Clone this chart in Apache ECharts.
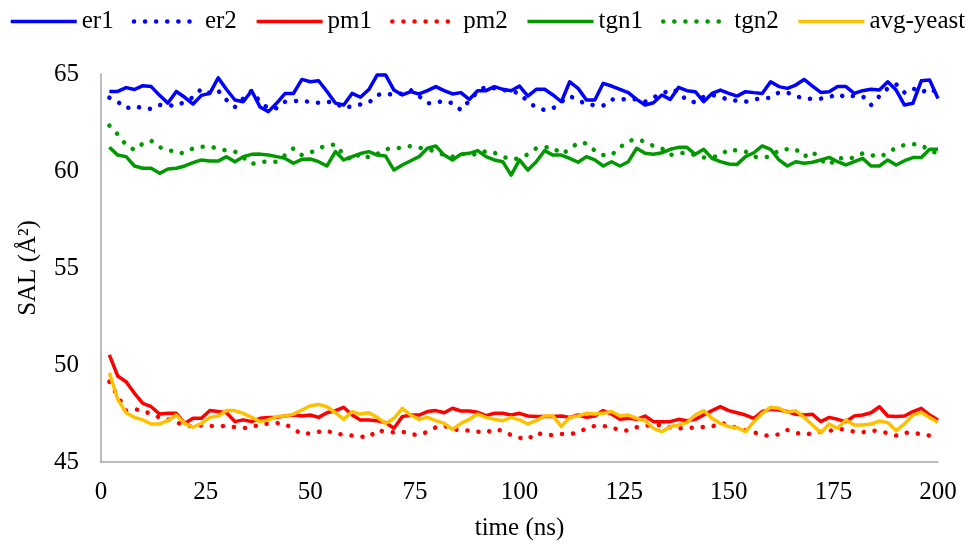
<!DOCTYPE html>
<html>
<head>
<meta charset="utf-8">
<script src="https://cdn.jsdelivr.net/npm/echarts@6/dist/echarts.min.js"></script>
<style>
html,body{margin:0;padding:0;background:#fff;}
#chart{width:974px;height:548px;}
</style>
</head>
<body>
<div id="chart"></div>
<script>
// time (ns)
var time = [2,4,6,8,10,12,14,16,18,20,22,24,26,28,30,32,34,36,38,40,42,44,46,48,50,52,54,56,58,60,62,64,66,68,70,72,74,76,78,80,82,84,86,88,90,92,94,96,98,100,102,104,106,108,110,112,114,116,118,120,122,124,126,128,130,132,134,136,138,140,142,144,146,148,150,152,154,156,158,160,162,164,166,168,170,172,174,176,178,180,182,184,186,188,190,192,194,196,198,200];

var er1 = [64.1,64.1,64.3,64.2,64.4,64.35,63.9,63.5,64.1,63.8,
63.45,63.9,64.0,64.8,64.2,63.66,63.57,64.14,63.3,63.06,
63.5,64.0,64.0,64.72,64.6,64.65,64.1,63.5,63.4,64.0,
63.8,64.2,64.95,64.95,64.17,63.92,64.09,63.97,64.14,64.35,
64.14,63.97,64.04,63.69,64.14,64.14,64.35,64.21,64.14,64.38,
63.86,64.21,64.21,63.92,63.57,64.6,64.26,63.66,63.66,64.52,
64.38,64.21,64.04,63.69,63.4,63.52,63.92,63.69,64.31,64.14,
64.09,63.57,64.0,64.17,64.0,63.86,64.09,64.04,64.0,64.6,
64.35,64.26,64.43,64.72,64.38,64.05,64.09,64.35,64.35,64.0,
64.14,64.21,64.17,64.6,64.17,63.4,63.49,64.65,64.69,63.74];

var er2 = [63.78,63.57,63.23,63.35,63.23,63.2,63.4,63.4,63.35,63.57,
63.8,64.23,64.0,64.14,63.66,63.3,63.74,64.14,63.57,63.23,
63.23,63.57,63.6,63.64,63.54,63.52,63.57,63.52,63.23,63.35,
63.43,63.52,63.92,64.0,63.92,64.0,64.17,63.86,63.49,63.52,
63.62,63.49,63.14,63.62,64.09,64.35,64.26,64.17,64.12,64.0,
63.57,63.28,63.14,63.23,63.57,63.86,63.66,63.43,63.4,63.37,
63.69,63.66,63.74,63.69,63.57,63.8,63.95,64.2,64.09,63.62,
63.54,63.83,63.92,63.83,63.66,63.62,63.57,63.69,63.74,63.78,
64.05,64.04,63.86,63.74,63.71,63.73,63.8,63.97,63.8,63.88,
63.86,63.4,63.86,64.26,64.47,64.04,64.26,64.04,64.26,64.0];

var pm1 = [50.52,49.43,49.14,48.54,48.02,47.85,47.47,47.51,47.51,46.99,
47.25,47.25,47.65,47.6,47.54,47.08,47.17,47.08,47.25,47.3,
47.3,47.37,47.42,47.37,47.42,47.3,47.54,47.65,47.82,47.42,
47.17,47.17,47.13,47.03,46.74,47.34,47.42,47.42,47.6,47.65,
47.54,47.77,47.63,47.63,47.56,47.39,47.51,47.51,47.42,47.51,
47.37,47.34,47.34,47.34,47.37,47.3,47.42,47.3,47.37,47.65,
47.47,47.2,47.25,47.2,47.37,47.08,47.08,47.08,47.2,47.13,
47.2,47.42,47.65,47.85,47.65,47.54,47.42,47.25,47.6,47.71,
47.68,47.6,47.46,47.42,47.46,47.08,47.3,47.2,47.08,47.37,
47.42,47.54,47.85,47.37,47.34,47.37,47.6,47.77,47.42,47.17];

var pm2 = [49.14,48.4,47.65,47.72,47.65,47.47,47.3,47.2,47.03,46.91,
46.82,46.89,46.86,46.84,46.86,46.8,46.75,46.79,46.94,46.98,
47.01,46.96,46.7,46.44,46.48,46.56,46.62,46.44,46.43,46.36,
46.31,46.27,46.65,46.56,46.53,46.56,46.43,46.39,46.56,46.79,
46.87,46.7,46.63,46.62,46.56,46.51,46.7,46.6,46.39,46.25,
46.17,46.51,46.39,46.39,46.44,46.44,46.51,46.74,46.86,46.86,
46.8,46.62,46.62,46.79,46.87,46.91,46.91,46.79,46.74,46.74,
46.79,46.8,46.82,47.03,46.91,46.74,46.62,46.53,46.39,46.34,
46.43,46.65,46.51,46.41,46.48,46.56,46.6,46.7,46.68,46.56,
46.53,46.62,46.6,46.48,46.36,46.51,46.51,46.43,46.36,46.39];

var tgn1 = [61.22,60.82,60.74,60.26,60.14,60.14,59.88,60.1,60.14,60.26,
60.43,60.57,60.51,60.51,60.74,60.48,60.74,60.86,60.87,60.82,
60.74,60.65,60.4,60.6,60.62,60.48,60.26,61.0,60.57,60.74,
60.9,61.0,60.82,60.77,60.05,60.31,60.53,60.74,61.17,61.29,
60.82,60.57,60.86,60.91,61.05,60.74,60.57,60.48,59.79,60.57,
60.05,60.48,61.05,60.82,60.82,60.65,60.45,60.74,60.57,60.26,
60.48,60.26,60.48,61.17,60.91,60.86,60.94,61.12,61.22,61.22,
60.86,61.12,60.65,60.48,60.36,60.34,60.74,60.94,61.29,61.12,
60.57,60.26,60.48,60.4,60.45,60.57,60.7,60.48,60.31,60.48,
60.65,60.26,60.26,60.57,60.31,60.53,60.69,60.7,61.12,61.12];

var tgn2 = [62.34,61.89,61.34,61.08,61.42,61.56,61.22,61.12,60.91,60.94,
61.17,61.25,61.25,61.17,61.05,61.0,60.7,60.36,60.48,60.48,
60.48,60.82,61.17,60.82,60.94,61.17,61.32,61.37,60.82,60.57,
60.91,60.7,60.87,61.13,61.17,61.2,61.29,61.2,61.12,61.0,
60.82,60.74,60.87,60.91,60.82,61.03,60.94,60.74,60.6,60.65,
60.86,61.17,61.22,61.22,60.87,61.12,61.46,61.42,61.05,60.82,
60.82,61.22,61.54,61.65,61.51,61.29,61.17,60.82,60.91,60.94,
60.82,60.7,60.7,60.82,61.12,61.05,61.0,60.74,60.69,60.74,
61.08,61.13,61.13,60.74,61.0,60.57,60.31,60.7,60.6,60.7,
60.91,60.82,60.74,60.91,61.22,61.34,61.39,61.34,61.05,60.91];

var avgYeast = [49.6,48.23,47.54,47.3,47.17,46.96,46.96,47.13,47.42,46.99,
46.79,46.99,47.3,47.37,47.65,47.65,47.51,47.3,47.08,47.17,
47.34,47.37,47.47,47.68,47.9,47.97,47.85,47.54,47.2,47.6,
47.47,47.54,47.3,46.99,47.25,47.77,47.42,47.2,47.3,47.13,
46.99,46.68,46.99,47.2,47.47,47.3,47.2,47.13,47.3,47.17,
46.96,47.13,47.37,47.37,46.82,47.3,47.37,47.51,47.47,47.51,
47.6,47.37,47.42,47.25,47.13,46.74,46.56,46.82,46.91,47.03,
47.42,47.65,47.25,46.99,46.82,46.77,46.56,47.08,47.51,47.82,
47.77,47.56,47.65,47.3,46.91,46.51,46.96,46.74,47.17,46.91,
46.91,46.96,47.11,47.03,46.62,46.96,47.42,47.56,47.3,47.04];

var seriesNames = ['er1','er2','pm1','pm2','tgn1','tgn2','avg-yeast'];
var dottedFlags = [false,true,false,true,false,true,false];
var xTicks = {min: 0, max: 200, step: 25};
var yTicks = {min: 45, max: 65, step: 5};

function pairs(vals){
  var out = [];
  for (var i = 0; i < time.length; i++) out.push([time[i], vals[i]]);
  return out;
}

var FONT = 'Liberation Serif';
var BLUE = '#0000FF', RED = '#FF0000', GREEN = '#009A00', GOLD = '#FFC000';
var DOT = [0.1, 11];
var SOLID_W = 3.5, DOT_W = 4.5;

function lineStyleFor(color, dotted){
  return dotted ? {color: color, width: DOT_W, type: DOT, cap: 'round'}
                : {color: color, width: SOLID_W, type: 'solid', join: 'round'};
}

function mk(name, vals, color, dotted){
  return {
    name: name, type: 'line', data: pairs(vals),
    symbol: 'none', showSymbol: false, smooth: false, animation: false,
    color: color,
    lineStyle: lineStyleFor(color, dotted)
  };
}

var colors = [BLUE, BLUE, RED, RED, GREEN, GREEN, GOLD];
var legendData = seriesNames.map(function(n, i){
  return {name: n, lineStyle: lineStyleFor(colors[i], dottedFlags[i]), itemStyle: {opacity: 0}};
});

var chart = echarts.init(document.getElementById('chart'), null, {renderer: 'canvas'});
chart.setOption({
  animation: false,
  backgroundColor: '#ffffff',
  textStyle: {fontFamily: FONT, color: '#000'},
  legend: {
    data: legendData,
    left: 9, top: 9, width: 965, padding: 0,
    itemWidth: 66, itemHeight: 14, itemGap: 18,
    itemStyle: {opacity: 0},
    textStyle: {fontFamily: FONT, fontSize: 25, color: '#000'}
  },
  grid: {left: 101, right: 36, top: 74, bottom: 86, containLabel: false},
  xAxis: {
    type: 'value', min: xTicks.min, max: xTicks.max, interval: xTicks.step,
    name: 'time (ns)', nameLocation: 'middle', nameGap: 54,
    nameTextStyle: {fontFamily: FONT, fontSize: 25, color: '#000'},
    axisLine: {show: true, lineStyle: {color: '#a6a6a6', width: 1.5}},
    axisTick: {show: false},
    splitLine: {show: false},
    axisLabel: {fontFamily: FONT, fontSize: 25, color: '#000', margin: 18}
  },
  yAxis: {
    type: 'value', min: yTicks.min, max: yTicks.max, interval: yTicks.step,
    name: 'SAL (Å²)', nameLocation: 'middle', nameGap: 60, nameRotate: 90,
    nameTextStyle: {fontFamily: FONT, fontSize: 25, color: '#000'},
    axisLine: {show: true, lineStyle: {color: '#a6a6a6', width: 1.5}},
    axisTick: {show: false},
    splitLine: {show: false},
    axisLabel: {fontFamily: FONT, fontSize: 25, color: '#000', margin: 22}
  },
  series: [
    mk('er1', er1, BLUE, false),
    mk('er2', er2, BLUE, true),
    mk('pm1', pm1, RED, false),
    mk('pm2', pm2, RED, true),
    mk('tgn1', tgn1, GREEN, false),
    mk('tgn2', tgn2, GREEN, true),
    mk('avg-yeast', avgYeast, GOLD, false)
  ]
});
</script>
</body>
</html>
